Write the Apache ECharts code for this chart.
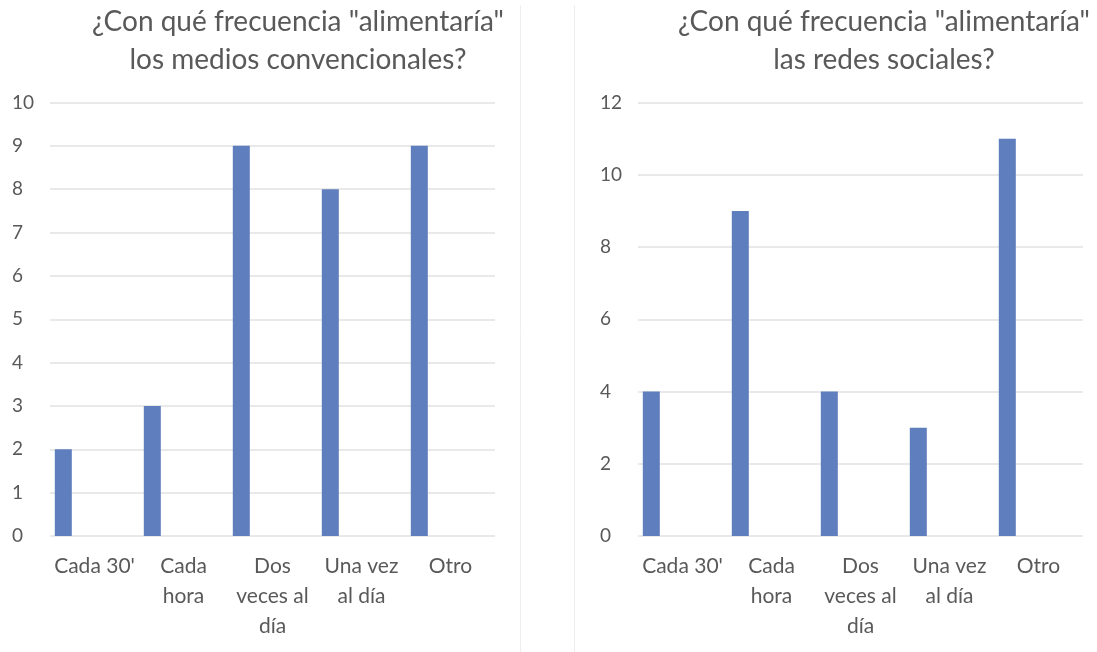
<!DOCTYPE html>
<html>
<head>
<meta charset="utf-8">
<script src="https://cdn.jsdelivr.net/npm/echarts@6/dist/echarts.min.js"></script>
<style>
  html, body { margin: 0; padding: 0; background: #ffffff; }
  #chart { width: 1097px; height: 652px; }
</style>
</head>
<body>
<div id="chart"></div>
<script>
// Frequency categories, wrapped the way they appear under each bar
const tickLabels = ["Cada 30'", "Cada\nhora", "Dos\nveces al\ndía", "Una vez\nal día", "Otro"];

// Answers: conventional media
const mediosConvencionales = [2, 3, 9, 8, 9];
// Answers: social networks
const redesSociales = [4, 9, 4, 3, 11];

// Value-axis settings for each panel
const leftAxisMax = 10, leftAxisStep = 1;
const rightAxisMax = 12, rightAxisStep = 2;

const titles = [
  '¿Con qué frecuencia "alimentaría"\nlos medios convencionales?',
  '¿Con qué frecuencia "alimentaría"\nlas redes sociales?'
];

const FONT = 'Lato, "Open Sans", sans-serif';
const TEXT = '#595959';
const BAR = '#5e7ebd';
const GRIDLINE = '#e2e2e2';

function xAxis(gridIndex) {
  return {
    type: 'category',
    gridIndex,
    data: tickLabels,
    axisLine: { show: false },
    axisTick: { show: false },
    axisLabel: {
      color: TEXT, fontFamily: FONT, fontSize: 21,
      lineHeight: 30, margin: 15, interval: 0, align: 'center'
    }
  };
}

function yAxis(gridIndex, max, step, margin) {
  return {
    type: 'value',
    gridIndex, min: 0, max, interval: step,
    axisLine: { show: false },
    axisTick: { show: false },
    axisLabel: { color: TEXT, fontFamily: FONT, fontSize: 19, align: 'left', margin },
    splitLine: { lineStyle: { color: GRIDLINE, width: 1.5 } }
  };
}

// Each panel keeps an empty second slot per category, so the bar sits at the left of its slot
function bars(xi, values) {
  return [
    { type: 'bar', xAxisIndex: xi, yAxisIndex: xi, data: values, barWidth: 17, barGap: '267%',
      itemStyle: { color: BAR }, silent: true },
    { type: 'bar', xAxisIndex: xi, yAxisIndex: xi, data: values.map(() => '-'), barWidth: 17,
      itemStyle: { color: BAR }, silent: true }
  ];
}

const titleStyle = { color: TEXT, fontFamily: FONT, fontSize: 28, fontWeight: 'normal', lineHeight: 38 };

const chart = echarts.init(document.getElementById('chart'), null, { renderer: 'canvas' });
chart.setOption({
  backgroundColor: '#ffffff',
  animation: false,
  title: [
    { text: titles[0], left: 298, top: 3, textAlign: 'center', padding: 0, textStyle: titleStyle },
    { text: titles[1], left: 884, top: 3, textAlign: 'center', padding: 0, textStyle: titleStyle }
  ],
  grid: [
    { left: 50, width: 445, top: 102.5, height: 433.5 },
    { left: 638, width: 445, top: 102.5, height: 433.5 }
  ],
  xAxis: [xAxis(0), xAxis(1)],
  yAxis: [
    yAxis(0, leftAxisMax, leftAxisStep, 38),
    yAxis(1, rightAxisMax, rightAxisStep, 38)
  ],
  series: [...bars(0, mediosConvencionales), ...bars(1, redesSociales)],
  graphic: [
    { type: 'line', shape: { x1: 520.5, y1: 5, x2: 520.5, y2: 652 }, style: { stroke: '#eeeeee', lineWidth: 1 }, silent: true },
    { type: 'line', shape: { x1: 574.5, y1: 5, x2: 574.5, y2: 652 }, style: { stroke: '#eeeeee', lineWidth: 1 }, silent: true }
  ]
});
</script>
</body>
</html>
